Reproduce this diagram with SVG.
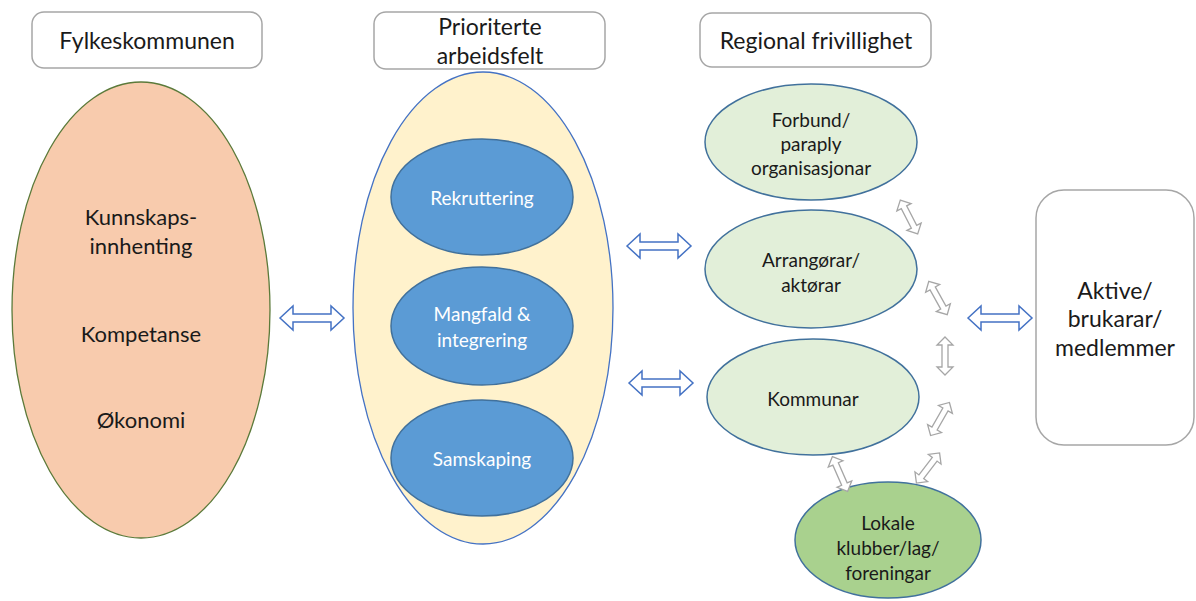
<svg xmlns="http://www.w3.org/2000/svg" xmlns:xlink="http://www.w3.org/1999/xlink" width="1196" height="601" viewBox="0 0 1196 601">
<style>
text{font-family:Lato,"Open Sans","Liberation Sans",sans-serif;fill:#1a1a1a;text-anchor:middle;dominant-baseline:central}
.hdr{fill:#fff;stroke:#a6a6a6;stroke-width:1.5}
.h{font-size:23px}
.big{font-size:22px}
.akt{font-size:23px}
.blue{fill:#5b9bd5;stroke:#41719c;stroke-width:1.5}
.bt{fill:#fff;font-size:19px}
.lg{fill:#e2efd9;stroke:#41719c;stroke-width:1.5}
.dg{fill:#a9d18e;stroke:#41719c;stroke-width:1.5}
.gt{font-size:19px}
.ba{fill:#fff;stroke:#4472c4;stroke-width:1.5}
.ga{fill:#fff;stroke:#a6a6a6;stroke-width:1.3}
</style>
<defs>
<polygon id="bigArrow" points="-32,0 -19,-12 -19,-4 19,-4 19,-12 32,0 19,12 19,4 -19,4 -19,12"/>
<polygon id="smallArrow" points="-19,0 -11,-8 -11,-3 11,-3 11,-8 19,0 11,8 11,3 -11,3 -11,8"/>
</defs>
<rect width="1196" height="601" fill="#fff"/>

<g id="hdr-fylke"><rect class="hdr" x="32" y="12" width="230" height="56" rx="12"/><text class="h" x="147" y="40">Fylkeskommunen</text></g>
<g id="hdr-prior"><rect class="hdr" x="374" y="12" width="231" height="57" rx="12"/><text class="h" x="490" y="26">Prioriterte</text><text class="h" x="490" y="55">arbeidsfelt</text></g>
<g id="hdr-regional"><rect class="hdr" x="700" y="13" width="231" height="54" rx="12"/><text class="h" x="816" y="40">Regional frivillighet</text></g>

<g id="fylke"><ellipse cx="141" cy="310" rx="129" ry="228" fill="#f8cbad" stroke="#5b7a3a" stroke-width="1.3"/>
<text class="big" x="141" y="216">Kunnskaps-</text><text class="big" x="141" y="245">innhenting</text>
<text class="big" x="141" y="333">Kompetanse</text><text class="big" x="141" y="419">Økonomi</text></g>

<g id="prior"><ellipse cx="483" cy="308" rx="130" ry="236" fill="#fff2cc" stroke="#4472c4" stroke-width="1.3"/></g>
<g id="rekruttering"><ellipse class="blue" cx="482" cy="197" rx="91" ry="58"/><text class="bt" x="482" y="197">Rekruttering</text></g>
<g id="mangfald"><ellipse class="blue" cx="482" cy="326" rx="91" ry="59"/><text class="bt" x="482" y="313">Mangfald &amp;</text><text class="bt" x="482" y="339">integrering</text></g>
<g id="samskaping"><ellipse class="blue" cx="482" cy="458" rx="91" ry="58"/><text class="bt" x="482" y="458">Samskaping</text></g>

<g id="forbund"><ellipse class="lg" cx="811" cy="142" rx="106" ry="58"/><text class="gt" x="811" y="119">Forbund/</text><text class="gt" x="811" y="143">paraply</text><text class="gt" x="811" y="167">organisasjonar</text></g>
<g id="arrangorar"><ellipse class="lg" cx="811" cy="269" rx="106" ry="59"/><text class="gt" x="811" y="259">Arrangørar/</text><text class="gt" x="811" y="284">aktørar</text></g>
<g id="kommunar"><ellipse class="lg" cx="813" cy="397" rx="106" ry="58"/><text class="gt" x="813" y="398">Kommunar</text></g>
<g id="lokale"><ellipse class="dg" cx="888" cy="540" rx="93" ry="58"/><text class="gt" x="888" y="522">Lokale</text><text class="gt" x="888" y="547">klubber/lag/</text><text class="gt" x="888" y="572">foreningar</text></g>

<g id="aktive"><rect class="hdr" x="1036" y="190" width="158" height="255" rx="28"/><text class="akt" x="1115" y="290">Aktive/</text><text class="akt" x="1115" y="318">brukarar/</text><text class="akt" x="1115" y="347">medlemmer</text></g>

<g id="connectors">
<use xlink:href="#bigArrow" class="ba" transform="translate(312,318)"/>
<use xlink:href="#bigArrow" class="ba" transform="translate(659,246)"/>
<use xlink:href="#bigArrow" class="ba" transform="translate(661,383)"/>
<use xlink:href="#bigArrow" class="ba" transform="translate(1000,318)"/>
<use xlink:href="#smallArrow" class="ga" transform="translate(909,217) rotate(62.8)"/>
<use xlink:href="#smallArrow" class="ga" transform="translate(938,298) rotate(61)"/>
<use xlink:href="#smallArrow" class="ga" transform="translate(945,356) rotate(90)"/>
<use xlink:href="#smallArrow" class="ga" transform="translate(940,419) rotate(119.7)"/>
<use xlink:href="#smallArrow" class="ga" transform="translate(928,468) rotate(127.5)"/>
<use xlink:href="#smallArrow" class="ga" transform="translate(840,474) rotate(66.4)"/>
</g>
</svg>
